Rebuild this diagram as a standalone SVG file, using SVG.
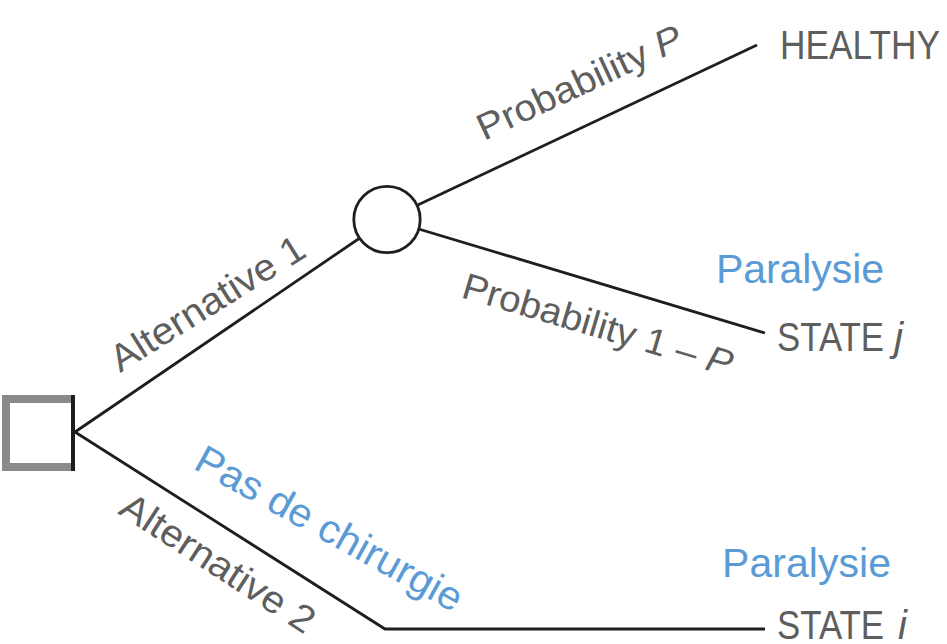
<svg xmlns="http://www.w3.org/2000/svg" width="947" height="644" viewBox="0 0 947 644">
<style>
.edge{fill:none;stroke:#1e1e1e;stroke-width:2.8;stroke-linejoin:miter}
.lbl{font-family:"Liberation Sans",Arial,sans-serif;fill:#5e5e5e}
.blue{font-family:"Liberation Sans",Arial,sans-serif;fill:#5b9bd5}
.it{font-style:italic}
</style>
<rect width="947" height="644" fill="#ffffff"/>
<g id="connectors">
  <line class="edge" x1="75" y1="432" x2="387" y2="219.5"/>
  <line class="edge" x1="387" y1="219.5" x2="757" y2="45"/>
  <line class="edge" x1="387" y1="219.5" x2="765" y2="333"/>
  <polyline class="edge" points="75,432 385,629 765,629"/>
</g>
<g id="edge-labels">
  <text class="lbl" font-size="38" textLength="222" lengthAdjust="spacingAndGlyphs" transform="translate(120,373) rotate(-32)">Alternative 1</text>
  <text class="lbl" font-size="38" textLength="224" lengthAdjust="spacingAndGlyphs" transform="translate(117,513) rotate(33)">Alternative 2</text>
  <text class="lbl" font-size="37" textLength="222" lengthAdjust="spacingAndGlyphs" transform="translate(484,141) rotate(-25)">Probability <tspan class="it">P</tspan></text>
  <text class="lbl" font-size="37" textLength="280" lengthAdjust="spacingAndGlyphs" transform="translate(460,297) rotate(16.5)">Probability 1 – <tspan class="it">P</tspan></text>
  <text class="blue" font-size="40" textLength="299" lengthAdjust="spacingAndGlyphs" transform="translate(192,468) rotate(29)">Pas de chirurgie</text>
</g>
<g id="decision">
  <polyline points="75,399 6,399 6,467 75,467" fill="#ffffff" stroke="#8a8a8a" stroke-width="8" stroke-linejoin="miter"/>
  <line x1="73" y1="395" x2="73" y2="471" stroke="#1e1e1e" stroke-width="4"/>
</g>
<g id="chance">
  <circle cx="387" cy="219.5" r="33.2" fill="#ffffff" stroke="#1e1e1e" stroke-width="2.8"/>
</g>
<g id="healthy">
  <text class="lbl" font-size="41" x="780" y="59" textLength="160" lengthAdjust="spacingAndGlyphs">HEALTHY</text>
</g>
<g id="state-j">
  <text class="lbl" font-size="41" x="777" y="351"><tspan textLength="107" lengthAdjust="spacingAndGlyphs">STATE</tspan><tspan class="it" x="894">j</tspan></text>
  <text class="blue" font-size="41" x="716" y="283" textLength="168">Paralysie</text>
</g>
<g id="state-i">
  <text class="lbl" font-size="40" x="777" y="639"><tspan textLength="107" lengthAdjust="spacingAndGlyphs">STATE</tspan><tspan class="it" x="898">i</tspan></text>
  <text class="blue" font-size="41" x="722" y="577" textLength="169">Paralysie</text>
</g>
</svg>
